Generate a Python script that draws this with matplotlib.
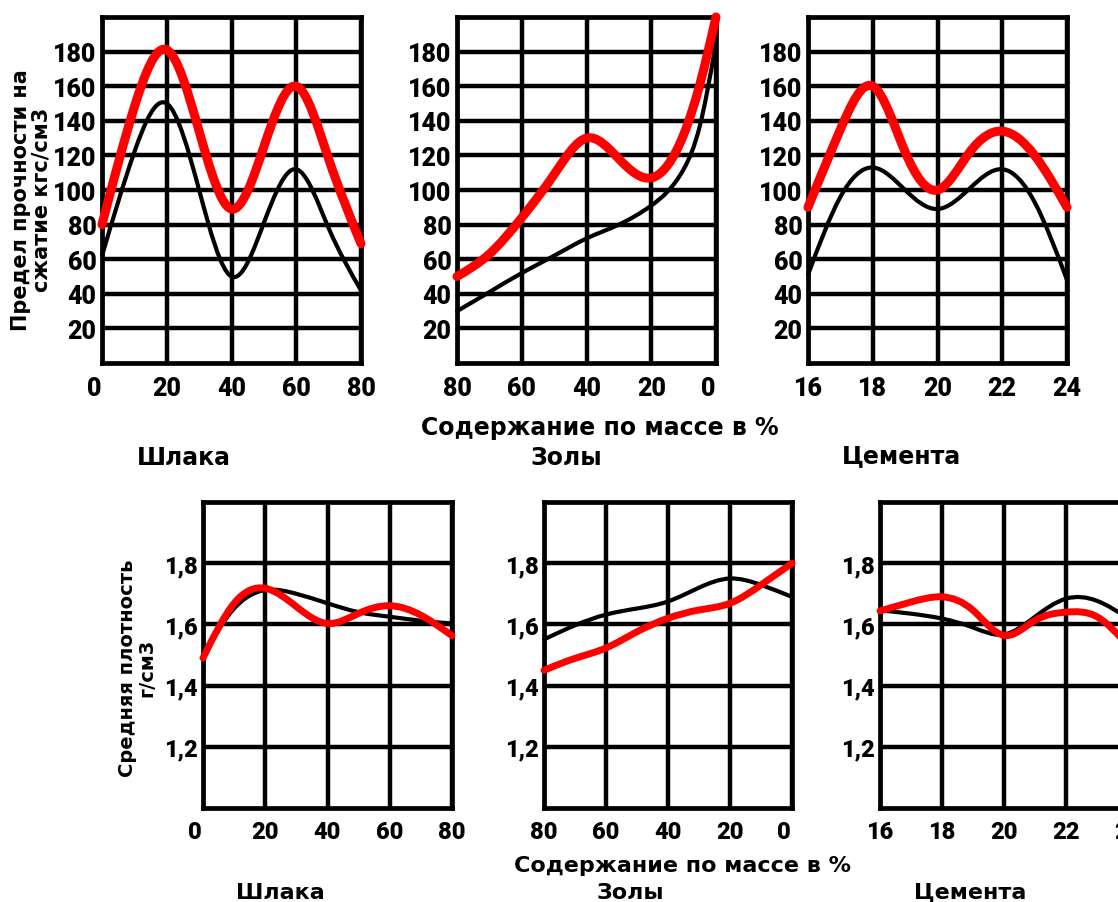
import matplotlib
matplotlib.use('Agg')
import matplotlib.pyplot as plt
from matplotlib.path import Path
from matplotlib.patches import PathPatch
import matplotlib.transforms as mtransforms
import numpy as np

plt.rcParams['font.family'] = ['Roboto', 'DejaVu Sans']

# ---------------- data: top row (strength, kgf/cm3) ----------------
slag_x = [0, 10, 20, 30, 40, 50, 60, 70, 80]
slag_black = [62, 122, 150, 100, 50, 81, 112, 78, 42]
slag_red = [80, 148, 181, 134, 89, 125, 160, 118, 69]

ash_x = [80, 70, 60, 50, 40, 30, 20, 10, 5, 0]
ash_black = [30, 41, 52, 62, 72, 80, 91, 112, 137, 185]
ash_red = [50, 63, 84, 109, 130, 118, 107, 132, 161, 200]

cem_x = [16, 17, 18, 19, 20, 21, 22, 23, 24]
cem_black = [51, 96, 113, 100, 89, 101, 112, 93, 48]
cem_red = [90, 135, 160, 122, 100, 122, 134, 120, 90]

# ---------------- data: bottom row (density, g/cm3) ----------------
bslag_x = [0, 10, 20, 30, 40, 50, 60, 70, 80]
bslag_black = [1.50, 1.652, 1.712, 1.70, 1.669, 1.64, 1.625, 1.612, 1.603]
bslag_red = [1.49, 1.669, 1.718, 1.658, 1.603, 1.636, 1.661, 1.63, 1.563]

bash_x = [80, 70, 60, 50, 40, 30, 20, 10, 0]
bash_black = [1.551, 1.597, 1.632, 1.652, 1.675, 1.72, 1.75, 1.729, 1.69]
bash_red = [1.45, 1.489, 1.523, 1.576, 1.62, 1.647, 1.669, 1.729, 1.80]

bcem_x = [16, 17, 18, 19, 20, 21, 22, 23, 24]
bcem_black = [1.646, 1.635, 1.619, 1.59, 1.567, 1.625, 1.684, 1.677, 1.62]
bcem_red = [1.644, 1.673, 1.69, 1.646, 1.564, 1.613, 1.64, 1.625, 1.53]

top_yticks = [20, 40, 60, 80, 100, 120, 140, 160, 180]
bot_yticks = [1.2, 1.4, 1.6, 1.8]
bot_ylabels = ['1,2', '1,4', '1,6', '1,8']
pct_ticks = [0, 20, 40, 60, 80]
cem_ticks = [16, 18, 20, 22, 24]

W, H = 1118, 903
fig = plt.figure(figsize=(W / 100, H / 100), dpi=100)
TICKFONT = dict(fontweight='heavy', family=['Roboto', 'DejaVu Sans'])
LABFONT = dict(fontweight='bold', family=['DejaVu Sans'])


def box(x0, x1, ytop, ybot):
    return [x0 / W, 1 - ybot / H, (x1 - x0) / W, (ybot - ytop) / H]


def smooth_curve(ax, xs, ys, color, lw):
    """Draw a smooth (natural cubic spline) curve through the points as Bezier path."""
    order = np.argsort(xs)
    x = np.asarray(xs, float)[order]
    y = np.asarray(ys, float)[order]
    n = len(x)
    h = np.diff(x)
    A = np.zeros((n, n))
    b = np.zeros(n)
    A[0, 0] = A[-1, -1] = 1.0
    for i in range(1, n - 1):
        A[i, i - 1] = h[i - 1]
        A[i, i] = 2 * (h[i - 1] + h[i])
        A[i, i + 1] = h[i]
        b[i] = 6 * ((y[i + 1] - y[i]) / h[i] - (y[i] - y[i - 1]) / h[i - 1])
    M = np.linalg.solve(A, b)
    m = np.zeros(n)
    for i in range(n - 1):
        m[i] = (y[i + 1] - y[i]) / h[i] - h[i] * (2 * M[i] + M[i + 1]) / 6
    m[-1] = (y[-1] - y[-2]) / h[-1] + h[-1] * (M[-2] + 2 * M[-1]) / 6
    verts = [(x[0], y[0])]
    codes = [Path.MOVETO]
    for i in range(n - 1):
        d = h[i] / 3
        verts += [(x[i] + d, y[i] + m[i] * d),
                  (x[i + 1] - d, y[i + 1] - m[i + 1] * d),
                  (x[i + 1], y[i + 1])]
        codes += [Path.CURVE4] * 3
    patch = PathPatch(Path(verts, codes), fill=False, edgecolor=color,
                      linewidth=lw, capstyle='round', joinstyle='round',
                      zorder=5, clip_on=False)
    ax.add_patch(patch)


def setup(ax, xlim, xticks, ylim, yticks, ylabels, fs):
    ax.set_xlim(*xlim)
    ax.set_ylim(*ylim)
    ax.set_xticks(xticks)
    ax.set_xticklabels([str(t) for t in xticks], fontsize=fs, **TICKFONT)
    ax.set_yticks(yticks)
    ax.set_yticklabels(ylabels, fontsize=fs, **TICKFONT)
    ax.grid(True, color='black', linewidth=3.2)
    ax.set_axisbelow(True)
    ax.tick_params(length=0, pad=4)
    ax.tick_params(axis='x', pad=9)
    for s in ax.spines.values():
        s.set_linewidth(3.4)
        s.set_color('black')
    # the "0" labels sit slightly to the left of their grid line in the drawing
    shift = mtransforms.ScaledTranslation(-8 / 100, 0, fig.dpi_scale_trans)
    for lab, t in zip(ax.get_xticklabels(), xticks):
        if t == 0:
            lab.set_transform(lab.get_transform() + shift)


# top row
ax1 = fig.add_axes(box(102, 361, 18, 364))
setup(ax1, (0, 80), pct_ticks, (0, 200), top_yticks, [str(v) for v in top_yticks], 18)
smooth_curve(ax1, slag_x, slag_black, 'black', 3)
smooth_curve(ax1, slag_x, slag_red, '#ff0000', 6.5)

ax2 = fig.add_axes(box(457, 716, 18, 364))
setup(ax2, (80, 0), pct_ticks, (0, 200), top_yticks, [str(v) for v in top_yticks], 18)
smooth_curve(ax2, ash_x, ash_black, 'black', 3)
smooth_curve(ax2, ash_x, ash_red, '#ff0000', 6.5)

ax3 = fig.add_axes(box(808, 1067, 18, 364))
setup(ax3, (16, 24), cem_ticks, (0, 200), top_yticks, [str(v) for v in top_yticks], 18)
smooth_curve(ax3, cem_x, cem_black, 'black', 3)
smooth_curve(ax3, cem_x, cem_red, '#ff0000', 6.5)

# bottom row
ax4 = fig.add_axes(box(203, 452, 503, 809))
setup(ax4, (0, 80), pct_ticks, (1.0, 2.0), bot_yticks, bot_ylabels, 17)
smooth_curve(ax4, bslag_x, bslag_black, 'black', 3)
smooth_curve(ax4, bslag_x, bslag_red, '#ff0000', 5)

ax5 = fig.add_axes(box(544, 792, 503, 809))
setup(ax5, (80, 0), pct_ticks, (1.0, 2.0), bot_yticks, bot_ylabels, 17)
smooth_curve(ax5, bash_x, bash_black, 'black', 3)
smooth_curve(ax5, bash_x, bash_red, '#ff0000', 5)

ax6 = fig.add_axes(box(880, 1128, 503, 809))
setup(ax6, (16, 24), cem_ticks, (1.0, 2.0), bot_yticks, bot_ylabels, 17)
smooth_curve(ax6, bcem_x, bcem_black, 'black', 3)
smooth_curve(ax6, bcem_x, bcem_red, '#ff0000', 5)


# texts
def ftext(px, py, s, fs, **kw):
    fig.text(px / W, 1 - py / H, s, fontsize=fs, ha='center', va='center', **LABFONT, **kw)


ftext(600, 428, 'Содержание по массе в %', 17)
ftext(184, 458, 'Шлака', 17)
ftext(566, 458, 'Золы', 17)
ftext(902, 456, 'Цемента', 17)

ftext(682, 866, 'Содержание по массе в %', 16)
ftext(280, 893, 'Шлака', 16)
ftext(630, 893, 'Золы', 16)
ftext(970, 893, 'Цемента', 16)

ftext(31, 200, 'Предел прочности на\nсжатие кгс/см3', 15, rotation=90, linespacing=1.05)
ftext(137, 668, 'Средняя плотность\nг/см3', 14, rotation=90, linespacing=1.05)

fig.savefig('out.png', dpi=100)
